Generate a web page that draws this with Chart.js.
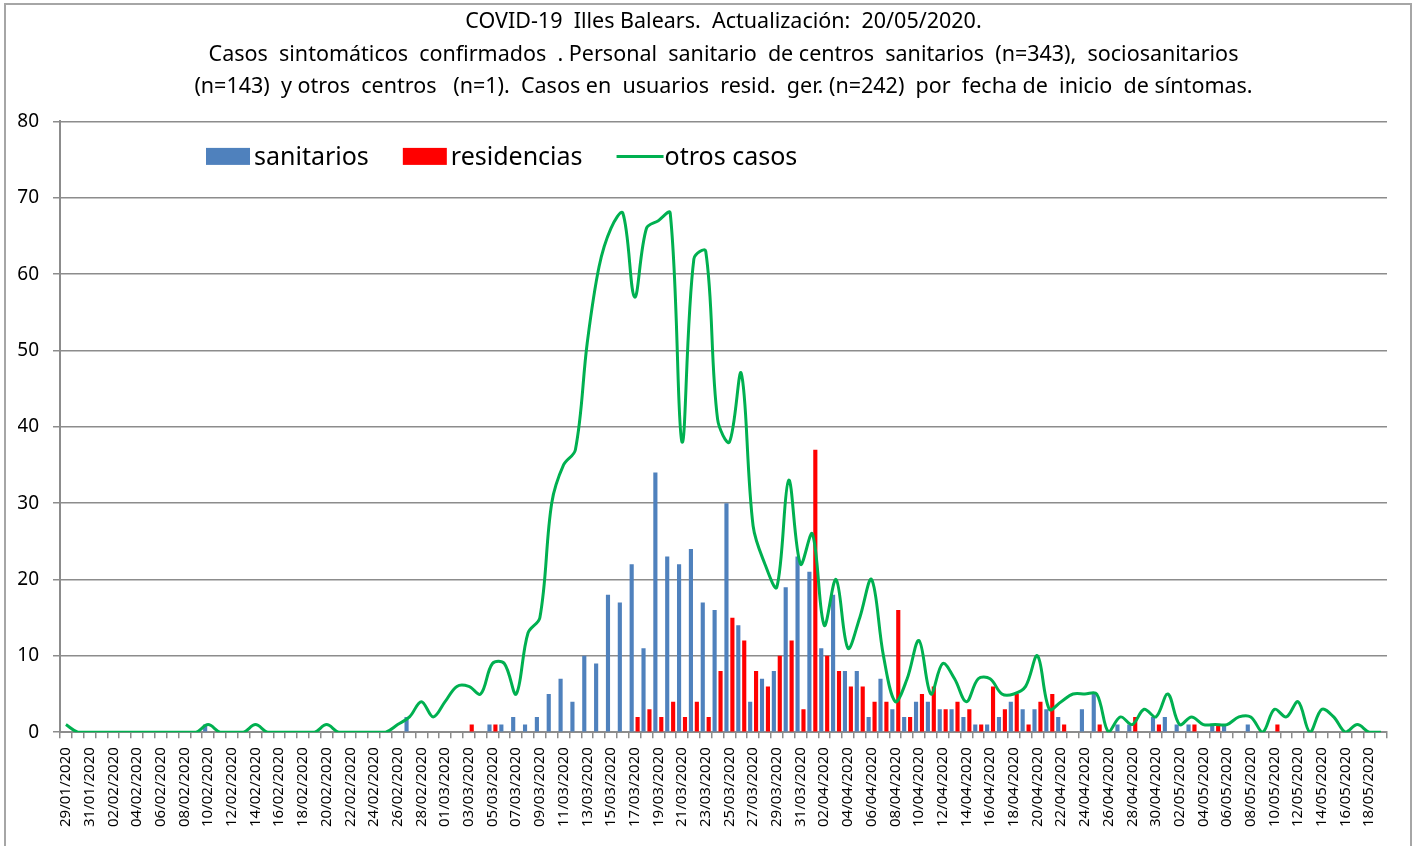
<!DOCTYPE html>
<html>
<head>
<meta charset="utf-8">
<script src="https://cdn.jsdelivr.net/npm/chart.js@4"></script>
<style>
  html, body { margin: 0; padding: 0; background: #fff; overflow: hidden; }
  #wrap { position: relative; width: 1416px; height: 846px; }
  #frame { position: absolute; left: 4px; top: 3px; width: 1404px; height: 900px; border: 2px solid #a6a6a6; pointer-events: none; }
</style>
</head>
<body>
<div id="wrap">
  <canvas id="myChart"></canvas>
  <div id="frame"></div>
</div>
<script>
// fechas de inicio de síntomas (29/01 - 19/05)
const fechas = [
  '29/01/2020','30/01/2020','31/01/2020',
  '01/02/2020','02/02/2020','03/02/2020','04/02/2020','05/02/2020','06/02/2020','07/02/2020','08/02/2020','09/02/2020','10/02/2020',
  '11/02/2020','12/02/2020','13/02/2020','14/02/2020','15/02/2020','16/02/2020','17/02/2020','18/02/2020','19/02/2020','20/02/2020',
  '21/02/2020','22/02/2020','23/02/2020','24/02/2020','25/02/2020','26/02/2020','27/02/2020','28/02/2020','29/02/2020',
  '01/03/2020','02/03/2020','03/03/2020','04/03/2020','05/03/2020','06/03/2020','07/03/2020','08/03/2020','09/03/2020','10/03/2020',
  '11/03/2020','12/03/2020','13/03/2020','14/03/2020','15/03/2020','16/03/2020','17/03/2020','18/03/2020','19/03/2020','20/03/2020',
  '21/03/2020','22/03/2020','23/03/2020','24/03/2020','25/03/2020','26/03/2020','27/03/2020','28/03/2020','29/03/2020','30/03/2020','31/03/2020',
  '01/04/2020','02/04/2020','03/04/2020','04/04/2020','05/04/2020','06/04/2020','07/04/2020','08/04/2020','09/04/2020','10/04/2020',
  '11/04/2020','12/04/2020','13/04/2020','14/04/2020','15/04/2020','16/04/2020','17/04/2020','18/04/2020','19/04/2020','20/04/2020',
  '21/04/2020','22/04/2020','23/04/2020','24/04/2020','25/04/2020','26/04/2020','27/04/2020','28/04/2020','29/04/2020','30/04/2020',
  '01/05/2020','02/05/2020','03/05/2020','04/05/2020','05/05/2020','06/05/2020','07/05/2020','08/05/2020','09/05/2020','10/05/2020',
  '11/05/2020','12/05/2020','13/05/2020','14/05/2020','15/05/2020','16/05/2020','17/05/2020','18/05/2020','19/05/2020'
];

const sanitarios = [
  0,0,0,
  0,0,0,0,0,0,0,0,0,1,
  0,0,0,0,0,0,0,0,0,0,
  0,0,0,0,0,0,2,0,0,
  0,0,0,0,1,1,2,1,2,5,
  7,4,10,9,18,17,22,11,34,23,
  22,24,17,16,30,14,4,7,8,19,23,
  21,11,18,8,8,2,7,3,2,4,
  4,3,3,2,1,1,2,4,3,3,
  3,2,0,3,5,0,1,1,0,2,
  2,1,1,0,1,1,0,1,0,0,
  0,0,0,0,0,0,0,0,0
];

const residencias = [
  0,0,0,
  0,0,0,0,0,0,0,0,0,0,
  0,0,0,0,0,0,0,0,0,0,
  0,0,0,0,0,0,0,0,0,
  0,0,1,0,1,0,0,0,0,0,
  0,0,0,0,0,0,2,3,2,4,
  2,4,2,8,15,12,8,6,10,12,3,
  37,10,8,6,6,4,4,16,2,5,
  6,3,4,3,1,6,3,5,1,4,
  5,1,0,0,1,0,0,2,0,1,
  0,0,1,0,1,0,0,0,0,1,
  0,0,0,0,0,0,0,0,0
];

const otrosCasos = [
  1,0,0,
  0,0,0,0,0,0,0,0,0,1,
  0,0,0,1,0,0,0,0,0,1,
  0,0,0,0,0,1,2,4,2,
  4,6,6,5,9,9,5,13,15,30,
  35,37,51,61,66,68,57,66,67,68,
  38,62,63,41,38,47,27,22,19,33,22,
  26,14,20,11,15,20,10,4,7,12,
  5,9,7,4,7,7,5,5,6,10,
  3,4,5,5,5,0,2,1,3,2,
  5,1,2,1,1,1,2,2,0,3,
  2,4,0,3,2,0,1,0,0
];

const titulo = [
  'COVID-19  Illes Balears.  Actualización:  20/05/2020.',
  'Casos  sintomáticos  confirmados  . Personal  sanitario  de centros  sanitarios  (n=343),  sociosanitarios',
  '(n=143)  y otros  centros   (n=1).  Casos en  usuarios  resid.  ger. (n=242)  por  fecha de  inicio  de síntomas.'
];

const gris = '#8c8c8c';

// leyenda dentro del área del gráfico
const leyendaInterior = {
  id: 'leyendaInterior',
  afterDatasetsDraw(chart) {
    const ctx = chart.ctx;
    const area = chart.chartArea;
    let x = area.left + 146;
    const y = area.top + 35;
    ctx.save();
    ctx.font = '25px "Noto Sans"';
    ctx.textBaseline = 'middle';
    chart.data.datasets.forEach(ds => {
      if (ds.type === 'line') {
        ctx.strokeStyle = ds.borderColor;
        ctx.lineWidth = 3;
        ctx.beginPath();
        ctx.moveTo(x, y);
        ctx.lineTo(x + 47, y);
        ctx.stroke();
      } else {
        ctx.fillStyle = ds.backgroundColor;
        ctx.fillRect(x, y - 8.5, 44, 17);
      }
      x += 48;
      ctx.fillStyle = '#000';
      ctx.fillText(ds.label, x, y + 1);
      x += ctx.measureText(ds.label).width + 34;
    });
    ctx.restore();
  }
};

const ctx = document.getElementById('myChart');

new Chart(ctx, {
  type: 'bar',
  data: {
    labels: fechas,
    datasets: [{
      label: 'sanitarios',
      data: sanitarios,
      backgroundColor: '#4F81BD',
      categoryPercentage: 1.0,
      barPercentage: 0.7
    }, {
      label: 'residencias',
      data: residencias,
      backgroundColor: '#FF0000',
      categoryPercentage: 1.0,
      barPercentage: 0.7
    }, {
      type: 'line',
      label: 'otros casos',
      data: otrosCasos,
      borderColor: '#00B050',
      borderWidth: 3,
      pointRadius: 0,
      tension: 0.35,
      fill: false,
      order: -1
    }]
  },
  options: {
    responsive: true,
    maintainAspectRatio: false,
    animation: false,
    layout: { padding: { left: 18, right: 29, top: 0, bottom: 10 } },
    plugins: {
      legend: { display: false },
      tooltip: { enabled: false },
      title: {
        display: true,
        text: titulo,
        fullSize: false,
        color: '#000',
        font: { family: 'Noto Sans', size: 21.5, weight: 'normal', lineHeight: 1.51 },
        padding: { top: 6, bottom: 18 }
      }
    },
    scales: {
      x: {
        offset: true,
        grid: { offset: true, drawOnChartArea: false, drawTicks: true, tickLength: 6, color: gris, lineWidth: 1.5 },
        border: { display: true, color: gris, width: 2 },
        ticks: {
          autoSkip: false,
          maxRotation: 90,
          minRotation: 90,
          padding: 9,
          color: '#000',
          font: { family: 'Noto Sans', size: 15 },
          callback: function (val, i) { return i % 2 === 0 ? this.getLabelForValue(val) : ''; }
        }
      },
      y: {
        min: 0,
        max: 80,
        afterFit(scale) { scale.width = 42; },
        grid: { color: gris, lineWidth: 1.5, tickLength: 7 },
        border: { display: true, color: gris, width: 2 },
        ticks: {
          stepSize: 10,
          padding: 14,
          color: '#000',
          font: { family: 'Noto Sans', size: 19 }
        }
      }
    }
  },
  plugins: [leyendaInterior]
});
</script>
</body>
</html>
